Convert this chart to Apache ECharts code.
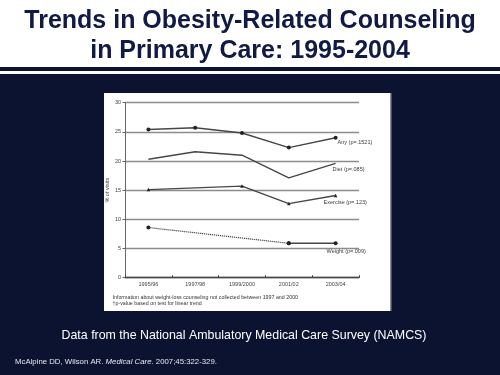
<!DOCTYPE html>
<html><head><meta charset="utf-8">
<script src="https://cdn.jsdelivr.net/npm/echarts@6/dist/echarts.min.js"></script>
<style>html,body{margin:0;padding:0;background:#0c1331;}#c{width:500px;height:375px;}</style>
</head><body><div id="c"></div>
<script>
var categories = ['1995/96', '1997/98', '1999/2000', '2001/02', '2003/04'];
var anyValues = [25.4, 25.7, 24.8, 22.3, 24.0];
var dietValues = [20.3, 21.6, 21.0, 17.1, 19.6];
var exerciseValues = [15.1, null, 15.7, 12.7, 14.1];
var weightEarly = [8.6, null, null, 5.9, null];
var weightLate = [null, null, null, 5.9, 5.9];
var yTicks = [0, 5, 10, 15, 20, 25, 30];

var navy = '#0c1331';
var lineColor = '#474747';
var labelFont = 'Liberation Sans';

var chart = echarts.init(document.getElementById('c'), null, {renderer: 'canvas'});

function endLbl(text, off) {
  return {show: true, formatter: text, offset: off, distance: 0, align: 'left',
    color: '#3a3a3a', fontSize: 5.5, fontFamily: labelFont};
}

var option = {
  backgroundColor: navy,
  animation: false,
  graphic: [
    {type: 'rect', z: -100, shape: {x: 0, y: 0, width: 500, height: 67}, style: {fill: '#ffffff'}},
    {type: 'rect', z: -100, shape: {x: 0, y: 71, width: 500, height: 3}, style: {fill: '#ffffff'}},
    {type: 'rect', z: -100, shape: {x: 104, y: 93, width: 287, height: 218}, style: {fill: '#ffffff'}},
    {type: 'rect', z: -99, shape: {x: 390, y: 93, width: 1.5, height: 218}, style: {fill: '#8a8d99'}},
    {type: 'text', z: 10, x: 250, y: 20.8, style: {text: 'Trends in Obesity-Related Counseling', fill: '#111a45',
      font: 'bold 25px "Liberation Sans", Arial, sans-serif', textAlign: 'center', textVerticalAlign: 'middle'}},
    {type: 'text', z: 10, x: 250, y: 51.5, style: {text: 'in Primary Care: 1995-2004', fill: '#111a45',
      font: 'bold 25px "Liberation Sans", Arial, sans-serif', textAlign: 'center', textVerticalAlign: 'middle'}},
    {type: 'text', z: 10, x: 244, y: 335.3, style: {text: 'Data from the National Ambulatory Medical Care Survey (NAMCS)', fill: '#ffffff',
      font: '12.4px "Liberation Sans", Arial, sans-serif', textAlign: 'center', textVerticalAlign: 'middle'}},
    {type: 'text', z: 10, x: 15, y: 361.5, style: {
      rich: {n: {fontSize: 7.8, fontFamily: labelFont, fill: '#e8e8ee'}, i: {fontSize: 7.8, fontFamily: labelFont, fontStyle: 'italic', fill: '#e8e8ee'}},
      text: '{n|McAlpine DD, Wilson AR. }{i|Medical Care}{n|. 2007;45:322-329.}',
      textAlign: 'left', textVerticalAlign: 'middle'}},
    {type: 'text', z: 10, x: 112.5, y: 297.3, style: {text: 'Information about weight-loss counseling not collected between 1997 and 2000',
      fill: '#333', font: '5.3px "Liberation Sans", Arial, sans-serif', textAlign: 'left', textVerticalAlign: 'middle'}},
    {type: 'text', z: 10, x: 112.5, y: 304, style: {text: '\u2020p-value based on test for linear trend',
      fill: '#333', font: '5.3px "Liberation Sans", Arial, sans-serif', textAlign: 'left', textVerticalAlign: 'middle'}}
  ],
  grid: {left: 125, right: 141, top: 102.7, bottom: 97.3, containLabel: false},
  xAxis: {
    type: 'category', data: categories, boundaryGap: true,
    axisLine: {lineStyle: {color: '#444', width: 1.3}},
    axisTick: {show: true, inside: true, length: 2.5, lineStyle: {color: '#444'}},
    axisLabel: {color: '#444', fontSize: 5.5, fontFamily: labelFont, margin: 4}
  },
  yAxis: {
    type: 'value', min: yTicks[0], max: yTicks[yTicks.length - 1], interval: 5,
    name: '% of visits', nameLocation: 'middle', nameGap: 14, nameRotate: 90,
    nameTextStyle: {color: '#444', fontSize: 5.5, fontFamily: labelFont},
    axisLine: {show: true, lineStyle: {color: '#666', width: 1}},
    axisTick: {show: true, length: 2.5, lineStyle: {color: '#666'}},
    axisLabel: {color: '#444', fontSize: 5.5, fontFamily: labelFont, margin: 4},
    splitLine: {show: true, lineStyle: {color: '#8c8c8c', width: 1.3}}
  },
  series: [
    {name: 'Any', type: 'line', data: anyValues, symbol: 'circle', symbolSize: 4,
      lineStyle: {color: lineColor, width: 1.4}, itemStyle: {color: '#222'},
      endLabel: endLbl('Any (p=.1521)', [2, 4.6])},
    {name: 'Diet', type: 'line', data: dietValues, showSymbol: false, symbol: 'none',
      lineStyle: {color: lineColor, width: 1.4},
      endLabel: endLbl('Diet (p=.085)', [-3, 6.5])},
    {name: 'Exercise', type: 'line', data: exerciseValues, connectNulls: true, symbol: 'triangle', symbolSize: 3.5,
      lineStyle: {color: lineColor, width: 1.4}, itemStyle: {color: '#222'},
      endLabel: endLbl('Exercise (p=.123)', [-12, 7.5])},
    {name: 'WeightEarly', type: 'line', data: weightEarly, connectNulls: true, symbol: 'circle', symbolSize: 4,
      lineStyle: {color: lineColor, width: 1.2, type: [1.2, 0.8]}, itemStyle: {color: '#222'}},
    {name: 'Weight', type: 'line', data: weightLate, symbol: 'circle', symbolSize: 4,
      lineStyle: {color: lineColor, width: 1.4}, itemStyle: {color: '#222'},
      endLabel: endLbl('Weight (p=.009)', [-9, 8.4])}
  ]
};
chart.setOption(option);
</script></body></html>
